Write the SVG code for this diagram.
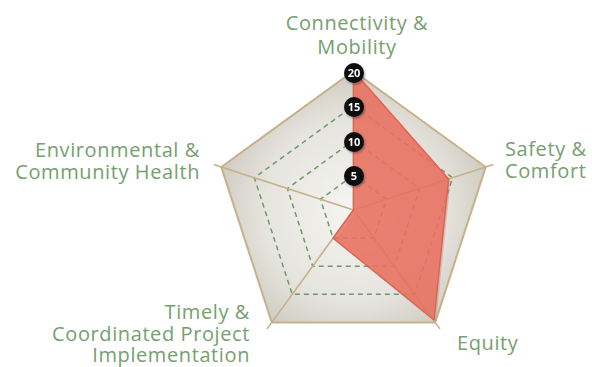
<svg xmlns="http://www.w3.org/2000/svg" width="592" height="367" viewBox="0 0 592 367">
<defs>
<radialGradient id="bg" cx="353.5" cy="210" r="150" gradientUnits="userSpaceOnUse">
<stop offset="0" stop-color="#f6f5f2"/>
<stop offset="0.6" stop-color="#e6e4de"/>
<stop offset="1" stop-color="#cac6bb"/>
</radialGradient>
<filter id="sh" x="-20%" y="-20%" width="140%" height="140%">
<feDropShadow dx="1" dy="1.5" stdDeviation="1.2" flood-color="#000" flood-opacity="0.35"/>
</filter>
</defs>
<style>
.lbl{font-family:"Open Sans","Noto Sans",sans-serif;font-size:20px;font-weight:500;letter-spacing:0.6px;fill:#76a06f}
.grid{fill:none;stroke:#6f9a6a;stroke-width:1.5;stroke-dasharray:5 4}
.spoke{stroke:#c6b18a;stroke-width:1.6}
.badge circle{fill:#0a0a0a}
.badge text{font-family:"Open Sans","DejaVu Sans",sans-serif;font-size:11px;font-weight:700;fill:#fff;text-anchor:middle}
</style>
<g id="background">
<polygon points="353.5,71 485.7,167.05 435.2,322.45 271.8,322.45 221.3,167.05" fill="url(#bg)" stroke="#c6b18a" stroke-width="2" stroke-linejoin="miter"/>
</g>
<g id="grid">
<polygon class="grid" points="353.5,105.75 452.65,177.79 414.78,294.34 292.22,294.34 254.35,177.79"/>
<polygon class="grid" points="353.5,140.5 419.6,188.52 394.35,266.23 312.65,266.23 287.4,188.52"/>
<polygon class="grid" points="353.5,175.25 386.55,199.26 373.93,238.11 333.07,238.11 320.45,199.26"/>
</g>
<g id="connectors">
<line class="spoke" x1="353.5" y1="210" x2="353.5" y2="63"/>
<line class="spoke" x1="353.5" y1="210" x2="493.3" y2="164.6"/>
<line class="spoke" x1="353.5" y1="210" x2="439.9" y2="328.9"/>
<line class="spoke" x1="353.5" y1="210" x2="267.1" y2="328.9"/>
<line class="spoke" x1="353.5" y1="210" x2="213.7" y2="164.6"/>
</g>
<g id="data">
<polygon points="355.5,73 450.6,181.1 436,322 335.07,240.11 355.5,212" fill="#8a8a88" opacity="0.35"/>
<polygon points="353.5,71 448.6,179.1 434,320 333.07,238.11 353.5,210" fill="#ee6e5c" fill-opacity="0.82" stroke="#e06452" stroke-width="1.5" stroke-linejoin="round"/>
</g>
<g id="badges">
<g class="badge" filter="url(#sh)"><circle cx="354" cy="73" r="10"/><text x="354" y="77">20</text></g>
<g class="badge" filter="url(#sh)"><circle cx="354" cy="107" r="10"/><text x="354" y="111">15</text></g>
<g class="badge" filter="url(#sh)"><circle cx="354" cy="142" r="10"/><text x="354" y="146">10</text></g>
<g class="badge" filter="url(#sh)"><circle cx="354" cy="176" r="10"/><text x="354" y="180">5</text></g>
</g>
<g id="label-connectivity"><text class="lbl" text-anchor="middle"><tspan x="357" y="30">Connectivity &amp;</tspan><tspan x="357" y="54">Mobility</tspan></text></g>
<g id="label-safety"><text class="lbl"><tspan x="505" y="156">Safety &amp;</tspan><tspan x="505" y="178">Comfort</tspan></text></g>
<g id="label-equity"><text class="lbl"><tspan x="457" y="350">Equity</tspan></text></g>
<g id="label-timely"><text class="lbl" text-anchor="end"><tspan x="250" y="319">Timely &amp;</tspan><tspan x="250" y="341">Coordinated Project</tspan><tspan x="250" y="362">Implementation</tspan></text></g>
<g id="label-environmental"><text class="lbl" text-anchor="end"><tspan x="200" y="157">Environmental &amp;</tspan><tspan x="200" y="179">Community Health</tspan></text></g>
</svg>
